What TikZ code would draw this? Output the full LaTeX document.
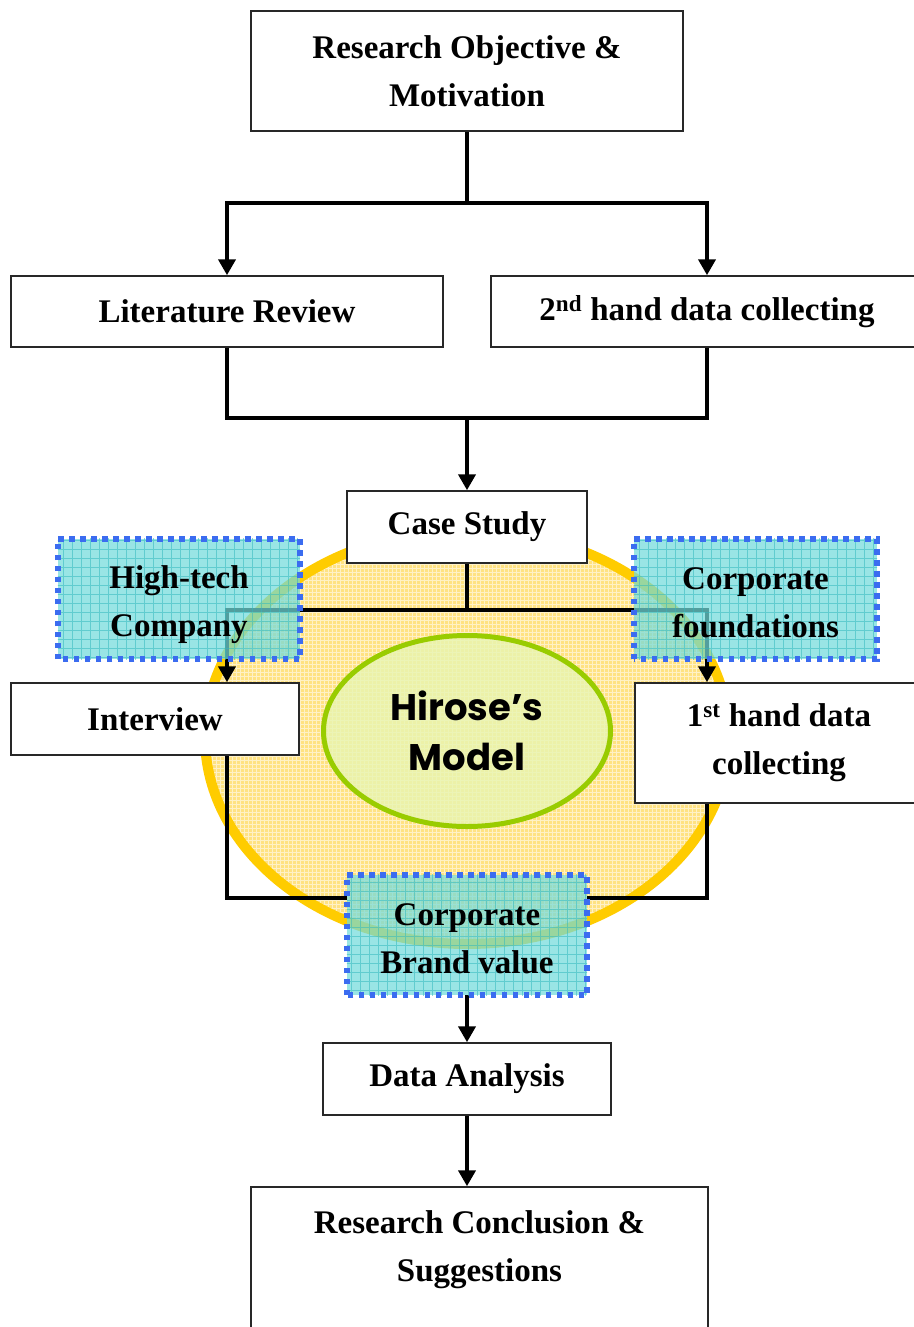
\documentclass[tikz,border=0pt]{standalone}
\usepackage{fontspec}
\setmainfont{Liberation Serif}
\newfontfamily\decofont{Poppins}
\usetikzlibrary{arrows.meta,shapes.geometric}

\definecolor{ringyellow}{RGB}{255,204,0}
\definecolor{discfill}{RGB}{255,226,130}
\definecolor{leafgreen}{RGB}{153,204,0}
\definecolor{leaffill}{RGB}{232,245,178}
\definecolor{dotblue}{RGB}{59,108,240}
\definecolor{tealfill}{RGB}{115,219,219}
\definecolor{tealgrid}{RGB}{50,185,190}
\definecolor{boxline}{RGB}{40,40,40}

\pgfdeclarelayer{disc}
\pgfdeclarelayer{wires}
\pgfsetlayers{disc,wires,main}

% #1 name, #2 centre, #3 width, #4 text position, #5 text
\newcommand\topicbox[5]{%
  \node[topicfill, minimum width=#3, minimum height=120] (#1) at (#2) {};
  \begin{scope}
    \clip (#1.south west) rectangle (#1.north east);
    \draw[tealgrid, line width=0.7pt, opacity=0.55, step=9pt]
      ([shift={(-10,-10)}]#1.north west) grid ([shift={(10,10)}]#1.south east);
  \end{scope}
  \draw[topicedge] (#1.south west) rectangle (#1.north east);
  \node (#1text) at (#4) {#5};
}

\begin{document}
\begin{tikzpicture}[x=1pt,y=-1pt,
  every node/.style={font=\fontsize{33}{48}\selectfont\bfseries, align=center},
  box/.style={draw=boxline, line width=1.5pt, fill=white, inner sep=0pt},
  conn/.style={line width=4.5pt, line join=miter, black},
  arr/.style={conn, -{Triangle[length=16pt,width=17pt]}},
  topicfill/.style={fill=tealfill, fill opacity=0.72, inner sep=0pt},
  topicedge/.style={draw=dotblue, line width=5.5pt, dash pattern=on 5.5pt off 5.5pt},
]
\useasboundingbox (0,0) rectangle (913,1327);

% page ground, central disc with its light grid and thick yellow ring
\begin{pgfonlayer}{disc}
  \fill[white] (0,0) rectangle (913,1327);
  \fill[discfill] (467,737) ellipse [x radius=262pt, y radius=207pt];
  \begin{scope}
    \clip (467,737) ellipse [x radius=262pt, y radius=207pt];
    \draw[white, line width=0.6pt, opacity=0.55, step=4pt] (190,520) grid (745,955);
  \end{scope}
  \draw[ringyellow, line width=10pt] (467,737) ellipse [x radius=262pt, y radius=207pt];
\end{pgfonlayer}

% process boxes
\node[box, minimum width=432, minimum height=120] (top) at (467,71) {Research Objective \&\\Motivation};
\node[box, minimum width=432, minimum height=71] (lit) at (227,311.5) {Literature Review};
\node[box, minimum width=432, minimum height=71] (sec) at (707,311.5) {2\textsuperscript{nd} hand data collecting};
\node[box, minimum width=240, minimum height=72] (case) at (467,527) {\raisebox{-3pt}{Case Study}};
\node[box, minimum width=288, minimum height=72] (int) at (155,719) {Interview};
\node[box, minimum width=288, minimum height=120] (first) at (779,743) {1\textsuperscript{st} hand data\\collecting};
\node[box, minimum width=288, minimum height=72] (da) at (467,1079) {\raisebox{-3pt}{Data Analysis}};
\node[box, minimum width=457, minimum height=160] (concl) at (479.5,1267) {};
\node (concltext) at (479.5,1250) {Research Conclusion \&\\Suggestions};

% model in the centre
\node[ellipse, draw=leafgreen, line width=5pt, fill=leaffill, fill opacity=0.8, text opacity=1,
      minimum width=287, minimum height=191,
      font=\decofont\bfseries\fontsize{37}{50}\selectfont] (hirose) at (467,731) {Hirose’s\\Model};

% highlighted topics
\topicbox{hitech}{179,599}{242}{179,605}{High-tech\\Company}
\topicbox{corp}{755.5,599}{243}{755.5,603}{Corporate\\foundations}
\topicbox{brand}{467,935}{240}{467,939}{Corporate\\Brand value}

% connectors
\coordinate (split1) at (467,203);
\coordinate (join1) at (467,418);
\coordinate (split2) at (467,610);
\coordinate (join3) at (467,898);
\begin{pgfonlayer}{wires}
  \draw[conn] (top.south) -- (split1);
  \draw[arr] (split1) -| (lit.north);
  \draw[arr] (split1) -| (sec.north);
  \draw[conn] (lit.south) |- (join1) -| (sec.south);
  \draw[arr] (join1) -- (case.north);
  \draw[conn] (case.south) -- (split2);
  \draw[arr] (split2) -| (int.north -| lit.south);
  \draw[arr] (split2) -| (first.north -| sec.south);
  \draw[conn] (int.south -| lit.south) |- (brand.west |- join3);
  \draw[conn] (first.south -| sec.south) |- (brand.east |- join3);
  \draw[arr] (brand.south) -- (da.north);
  \draw[arr] (da.south) -- (concl.north -| da.south);
\end{pgfonlayer}
\end{tikzpicture}
\end{document}
